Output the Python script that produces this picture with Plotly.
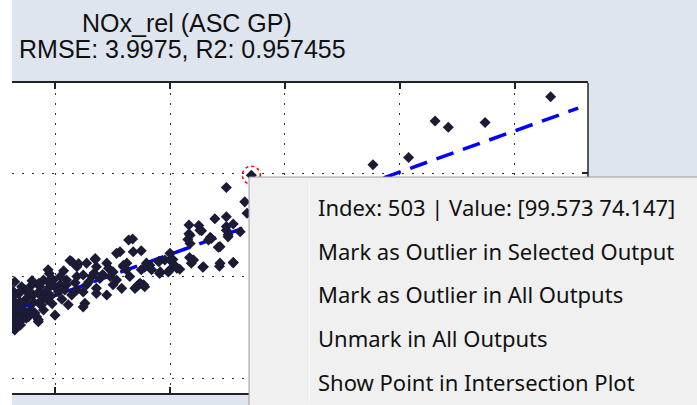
import plotly.graph_objects as go

# Predicted vs. measured NOx_rel (ASC GP model)
pred = [
    126.2, 106.1, 108.4, 114.8, 95.3, 101.5,
    69.8, 73.0, 73.4, 67.8, 69.8, 69.8, 71.0, 63.3, 65.0, 63.3, 65.5, 67.0, 70.1,
    53.5, 69.8, 63.1, 67.2, 68.4, 53.6, 55.0, 60.0, 60.5, 63.4, 63.7, 65.7, 68.6,
    71.0, 58.1, 59.1, 60.8, 61.7, 58.2, 60.0, 55.6, 55.0, 56.5, 52.4, 53.0, 51.9,
    54.5, 55.6, 51.3, 50.7,
    42.9, 43.8, 45.5, 47.0, 47.2, 49.0, 49.3, 50.1, 51.9, 52.5, 39.0, 38.0, 39.7,
    40.9, 42.0, 43.8, 44.9, 46.4, 47.8, 49.6, 50.7, 37.4, 39.1, 40.9, 42.0, 43.8,
    45.5, 47.2, 49.0, 50.1, 51.6, 54.2, 55.4, 45.2, 42.3, 40.0, 37.1, 33.3, 58.3,
    59.7, 61.2, 58.0, 60.0, 55.9, 56.8, 54.8, 53.9, 63.5, 65.2, 63.5, 64.1, 65.8,
    66.7, 68.7, 68.7, 70.1, 71.0, 72.2,
    32.75, 32.75, 32.75, 32.75, 33.6, 33.9, 33.9, 33.9, 34.8, 35.1, 35.4, 36.2,
    36.8, 37.1, 37.4, 37.7, 33.0, 34.2, 35.9, 38.0, 33.0, 38.8, 40.0, 41.7, 42.9,
    44.9, 47.2, 44.9, 42.6, 47.0, 52.8, 38.8,
    32.6, 32.6, 32.6, 32.6, 33.3, 33.3, 33.3, 34.0, 34.0, 34.0, 34.6, 34.6, 35.0,
    35.5, 35.8, 36.3, 36.5, 37.0, 37.6, 38.3, 38.6, 39.3, 39.5, 40.6, 41.2, 43.5,
    45.9, 46.8, 48.3, 44.1, 41.5, 36.0, 37.2,
    74.147,
]
meas = [
    114.8, 110.1, 108.9, 109.8, 101.6, 103.0,
    97.2, 94.4, 92.2, 91.1, 91.5, 89.6, 90.1, 89.9, 89.8, 88.2, 88.8, 87.5, 88.0,
    87.2, 88.9, 87.1, 87.3, 85.6, 84.7, 84.9, 84.4, 83.2, 83.6, 82.5, 81.7, 81.9,
    82.6, 82.8, 83.1, 82.1, 81.3, 80.5, 81.2, 81.7, 81.2, 82.1, 81.2, 79.9, 82.1,
    78.3, 77.9, 84.7, 84.4,
    82.8, 81.8, 82.5, 83.2, 81.8, 82.5, 81.5, 80.8, 81.8, 82.5, 80.5, 79.2, 79.2,
    79.9, 79.2, 79.9, 80.2, 79.9, 79.5, 79.9, 79.2, 77.9, 77.9, 78.3, 78.3, 77.3,
    78.3, 77.6, 76.3, 78.3, 77.6, 77.9, 78.3, 74.7, 74.4, 72.4, 71.5, 70.2, 80.8,
    80.8, 81.5, 82.8, 83.1, 82.5, 81.2, 78.6, 77.6, 87.9, 88.9, 86.3, 83.1, 81.8,
    87.0, 85.7, 82.5, 87.6, 82.6, 88.6,
    76.0, 74.0, 72.1, 70.5, 76.6, 75.0, 73.1, 71.1, 77.3, 75.7, 72.1, 76.3,
    72.1, 71.1, 75.0, 76.3, 69.5, 77.9, 78.2, 73.4, 78.9, 78.9, 77.9, 77.3, 76.3,
    76.9, 76.6, 74.0, 83.0, 83.4, 87.0, 81.2,
    77.2, 75.2, 73.0, 71.3, 74.5, 72.6, 70.8, 76.9, 72.4, 70.5, 74.8, 73.2, 71.8,
    77.1, 73.5, 74.9, 72.8, 76.7, 74.3, 76.8, 75.4, 76.1, 74.6, 76.9, 75.5, 78.7,
    78.9, 80.6, 80.3, 82.4, 81.0, 79.1, 78.6,
    99.573,
]

# Linear fit through the cloud
fit_x = [33.0, 131.0]
fit_y = [73.4, 112.6]

# Selected point
sel_index = 503
sel_x = 74.147
sel_y = 99.573

x_ticks = [40, 60, 80, 100, 120]
y_ticks = [60, 80, 100]

title_lines = ["NOx_rel (ASC GP)", "RMSE: 3.9975, R2: 0.957455"]
menu_items = [
    f"Index: {sel_index} | Value: [{sel_y:.3f} {sel_x:.3f}]",
    "Mark as Outlier in Selected Output",
    "Mark as Outlier in All Outputs",
    "Unmark in All Outputs",
    "Show Point in Intersection Plot",
]

W, H = 697, 405
L, R, T, B = 12, 588, 83, 393
BG = "#dfe5ef"


def px_x(p):
    return (p - L) / (R - L)


def px_y(p):
    return (B - p) / (B - T)


fig = go.Figure()

fig.add_trace(go.Scatter(
    x=fit_x, y=fit_y, mode="lines",
    line=dict(color="#0000ff", width=3.5, dash="18px,10px"),
    hoverinfo="skip", showlegend=False,
))
fig.add_trace(go.Scatter(
    x=pred, y=meas, mode="markers",
    marker=dict(symbol="diamond", size=8.5, color="#1b1b36", line=dict(width=0)),
    showlegend=False,
))

shapes = []
# red dotted ring around the selected point
shapes.append(dict(
    type="circle", xref="x", yref="y", xsizemode="pixel", ysizemode="pixel",
    xanchor=sel_x, yanchor=sel_y, x0=-9, x1=9, y0=-9, y1=9,
    line=dict(color="#ff0000", width=1.5, dash="dot"), layer="above",
))
# right axis border
shapes.append(dict(
    type="line", xref="paper", yref="paper", x0=1, x1=1, y0=0, y1=1,
    line=dict(color="#222222", width=1.5), layer="above",
))
# white strip on the left edge of the window
shapes.append(dict(
    type="rect", xref="paper", yref="paper",
    x0=px_x(-2), x1=px_x(L), y0=px_y(H + 2), y1=px_y(-2),
    fillcolor="white", line=dict(width=0), layer="above",
))
# context menu panel
shapes.append(dict(
    type="rect", xref="paper", yref="paper",
    x0=px_x(249), x1=px_x(W + 5), y0=px_y(H + 5), y1=px_y(177),
    fillcolor="#f0f0f0", line=dict(color="#9a9a9a", width=1), layer="above",
))
# menu icon-column separator
shapes.append(dict(
    type="line", xref="paper", yref="paper",
    x0=px_x(308), x1=px_x(308), y0=px_y(402), y1=px_y(182),
    line=dict(color="#e2e2e2", width=1), layer="above",
))
shapes.append(dict(
    type="line", xref="paper", yref="paper",
    x0=px_x(309), x1=px_x(309), y0=px_y(402), y1=px_y(182),
    line=dict(color="#ffffff", width=1), layer="above",
))

annotations = []
annotations.append(dict(
    text=title_lines[0], xref="paper", yref="paper", x=px_x(187), y=px_y(23),
    xanchor="center", yanchor="middle", showarrow=False,
    font=dict(family="Liberation Sans", size=25, color="#111111"),
))
annotations.append(dict(
    text=title_lines[1], xref="paper", yref="paper", x=px_x(17), y=px_y(49),
    xanchor="left", yanchor="middle", showarrow=False,
    font=dict(family="Liberation Sans", size=25, color="#111111"),
))
for i, item in enumerate(menu_items):
    annotations.append(dict(
        text=item, xref="paper", yref="paper", x=px_x(316), y=px_y(207 + 43.7 * i),
        xanchor="left", yanchor="middle", showarrow=False,
        font=dict(family="Noto Sans", size=22, color="#111111"),
    ))

axis_common = dict(
    showgrid=True, gridcolor="#333333", gridwidth=1, griddash="2px,8px",
    zeroline=False, ticks="inside", ticklen=6, tickwidth=1.5, tickcolor="#222222",
    automargin=False,
)

fig.update_layout(
    width=W, height=H,
    margin=dict(l=L, r=W - R, t=T, b=H - B, pad=0, autoexpand=False),
    paper_bgcolor=BG, plot_bgcolor="white",
    shapes=shapes, annotations=annotations,
    xaxis=dict(
        range=[32.52, 132.7], tickvals=x_ticks, showline=True, mirror="ticks",
        linecolor="#222222", linewidth=1.5,
        tickfont=dict(family="Liberation Sans", size=22, color="#111111"),
        ticklabelstandoff=4, **axis_common,
    ),
    yaxis=dict(
        range=[57.28, 117.48], tickvals=y_ticks, side="right", showline=False,
        showticklabels=False, **axis_common,
    ),
    hovermode=False,
)

fig.write_html("out.html")
